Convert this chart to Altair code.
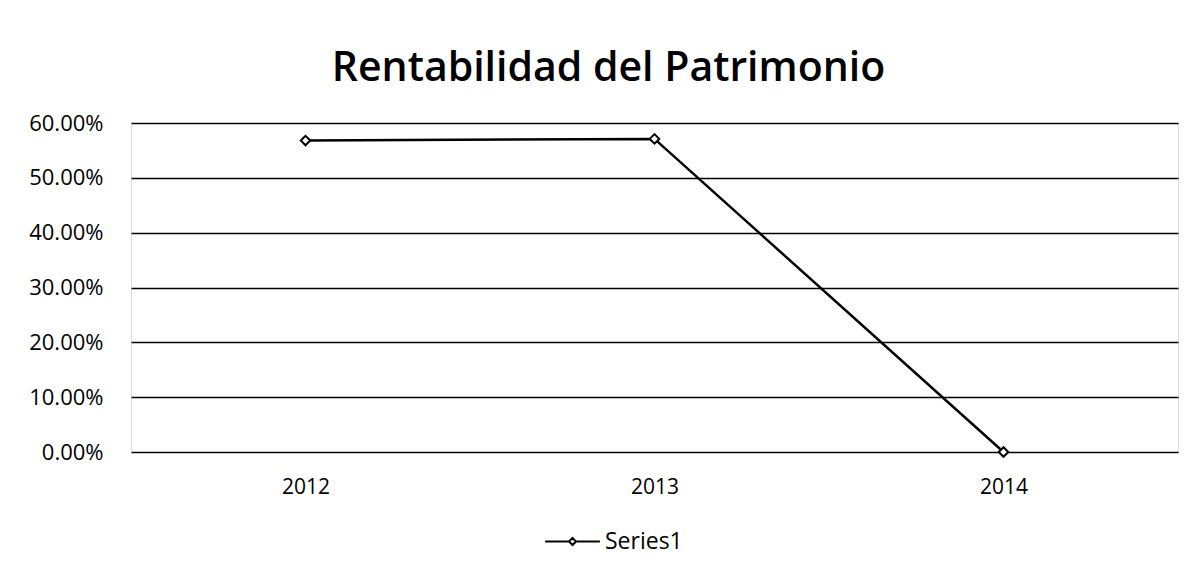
import altair as alt
import pandas as pd

years = ["2012", "2013", "2014"]
values = [0.568, 0.571, 0.0]
series = ["Series1", "Series1", "Series1"]

df = pd.DataFrame({"year": years, "value": values, "series": series})

FONT = "Open Sans"

base = alt.Chart(df)

line = base.mark_line(color="black", strokeWidth=2.5).encode(
    x=alt.X("year:N", sort=years, title=None,
            axis=alt.Axis(labelAngle=0, ticks=False, domain=False, labelPadding=24,
                          labelFontSize=21, labelFont=FONT, labelColor="black")),
    y=alt.Y("value:Q", title=None,
            scale=alt.Scale(domain=[0, 0.6], nice=False),
            axis=alt.Axis(format=".2%", values=[0, 0.1, 0.2, 0.3, 0.4, 0.5, 0.6],
                          ticks=False, domain=False, labelPadding=28,
                          labelFontSize=22, labelFont=FONT, labelColor="black",
                          gridColor="black", gridWidth=1.6, gridOpacity=1)),
    color=alt.Color("series:N", title=None,
                    scale=alt.Scale(range=["black"]),
                    legend=alt.Legend(orient="none", legendX=413, legendY=390,
                                      symbolType="M-1,0L-0.13,0M0.13,0L1,0M0,-0.13L0.13,0L0,0.13L-0.13,0Z",
                                      symbolSize=3000, symbolStrokeWidth=2,
                                      symbolStrokeColor="black", symbolFillColor="white",
                                      labelFontSize=23, labelFont=FONT, labelColor="black",
                                      labelOffset=4, labelLimit=200)),
)

pts = base.mark_point(shape="diamond", filled=True, fill="white", stroke="black",
                      strokeWidth=2, size=90, opacity=1).encode(
    x=alt.X("year:N", sort=years),
    y=alt.Y("value:Q"),
)

chart = (line + pts).properties(
    width=1047, height=329,
    padding={"left": 123, "top": 115, "right": 10, "bottom": 115},
    autosize="none",
    title=alt.TitleParams("Rentabilidad del Patrimonio", fontSize=41, font=FONT,
                          fontWeight=600, color="black", anchor="middle",
                          dx=-46, offset=22),
).configure_view(stroke="#222", strokeWidth=1).configure(background="white")

chart.save("out.html", embed_options={"renderer": "svg", "actions": False})
